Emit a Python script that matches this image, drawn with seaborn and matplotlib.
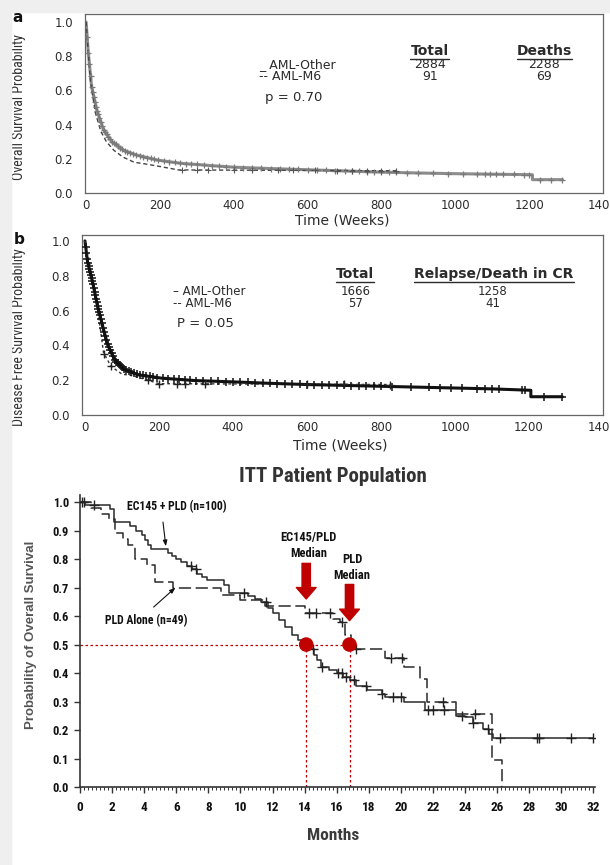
import numpy as np
import matplotlib
matplotlib.use("Agg")
import matplotlib.pyplot as plt
import seaborn as sns
from matplotlib import font_manager
from matplotlib.patches import Rectangle
from matplotlib.lines import Line2D
from matplotlib.ticker import MultipleLocator

# ---------------- panel a: overall survival (weeks) ----------------
a_other_weeks = [0, 6, 15, 29, 47, 70, 101, 137, 192, 255, 354, 400, 500, 600, 700,
                 800, 900, 1000, 1100, 1209, 1209, 1290]
a_other_surv = [1.0, 0.82, 0.62, 0.485, 0.37, 0.30, 0.25, 0.222, 0.193, 0.174, 0.158,
                0.151, 0.143, 0.136, 0.129, 0.122, 0.117, 0.113, 0.110, 0.107, 0.078, 0.078]
a_m6_weeks = [0, 5, 12, 25, 40, 55, 75, 100, 130, 160, 200, 250, 840]
a_m6_surv = [1.0, 0.85, 0.65, 0.47, 0.36, 0.30, 0.25, 0.21, 0.18, 0.17, 0.155, 0.135, 0.13]
a_other_cens = [3, 6, 9, 12, 15, 18, 21, 24, 27, 30, 33, 36, 40, 44, 48, 52, 56, 60, 65,
                70, 75, 80, 86, 92, 98, 105, 112, 120, 128, 136, 145, 155, 165, 175, 185,
                195, 210, 225, 240, 255, 270, 285, 300, 320, 340, 360, 380, 400, 425, 450,
                475, 500, 525, 550, 575, 600, 625, 650, 675, 700, 720, 740, 760, 780, 800,
                820, 840, 870, 900, 940, 980, 1020, 1060, 1080, 1095, 1110, 1130, 1160,
                1185, 1200, 1230, 1260, 1290]
a_m6_cens = [260, 300, 330, 400, 450, 520, 560, 620, 680, 720, 760, 800, 840]
a_groups = ["AML-Other", "AML-M6"]
a_totals = [2884, 91]
a_deaths = [2288, 69]
a_pvalue = "p = 0.70"

# ---------------- panel b: disease free survival (weeks) ----------------
b_other_weeks = [0, 7, 21, 34, 48, 61, 80, 107, 143, 206, 296, 404, 500, 600, 700, 800,
                 900, 1000, 1100, 1205, 1205, 1290]
b_other_surv = [1.0, 0.88, 0.76, 0.626, 0.51, 0.405, 0.318, 0.26, 0.231, 0.212, 0.198,
                0.19, 0.182, 0.175, 0.17, 0.165, 0.16, 0.155, 0.15, 0.142, 0.105, 0.105]
b_m6_weeks = [0, 10, 25, 40, 50, 70, 100, 130, 170, 200, 825]
b_m6_surv = [1.0, 0.9, 0.72, 0.52, 0.36, 0.28, 0.235, 0.225, 0.20, 0.18, 0.175]
b_other_cens = [2, 4, 6, 8, 10, 12, 14, 16, 18, 20, 22, 24, 26, 28, 30, 32, 34, 36, 38, 40,
                43, 46, 49, 52, 55, 58, 61, 64, 68, 72, 76, 80, 85, 90, 95, 100, 106, 112,
                118, 125, 132, 140, 148, 156, 165, 175, 185, 195, 210, 225, 240, 255, 270,
                285, 300, 320, 340, 360, 380, 400, 420, 440, 460, 480, 500, 520, 540, 560,
                580, 600, 620, 640, 660, 680, 700, 720, 740, 760, 780, 800, 830, 880, 930,
                960, 990, 1020, 1060, 1080, 1100, 1120, 1180, 1190, 1240, 1290]
b_m6_cens = [52, 70, 170, 200, 250, 270, 325, 600, 700, 825]
b_groups = ["AML-Other", "AML-M6"]
b_totals = [1666, 57]
b_events = [1258, 41]
b_pvalue = "P = 0.05"

# ---------------- panel c: ITT overall survival (months) ----------------
c_ec_months = [0, 0.3, 1.9, 2.1, 3.1, 3.5, 3.85, 4.05, 4.25, 4.45, 5.5, 5.75, 6.0, 6.3,
               6.7, 7.0, 7.3, 7.6, 7.9, 9.0, 9.3, 10.5, 10.9, 11.3, 11.7, 12.0, 12.4, 12.8,
               13.2, 13.6, 13.9, 14.3, 14.6, 14.8, 15.0, 15.5, 16.0, 16.4, 16.8, 17.2,
               17.9, 18.8, 19.0, 20.2, 21.5, 23.45, 24.0, 24.5, 25.1, 25.5, 25.75, 32.0]
c_ec_surv = [1.0, 0.99, 0.975, 0.93, 0.915, 0.90, 0.884, 0.866, 0.849, 0.835, 0.82, 0.81,
             0.80, 0.79, 0.776, 0.765, 0.748, 0.738, 0.725, 0.71, 0.68, 0.67, 0.66, 0.65,
             0.627, 0.61, 0.586, 0.563, 0.534, 0.516, 0.505, 0.485, 0.465, 0.445, 0.42,
             0.41, 0.40, 0.385, 0.375, 0.355, 0.34, 0.325, 0.316, 0.30, 0.27, 0.25, 0.245,
             0.225, 0.205, 0.185, 0.172, 0.172]
c_pld_months = [0, 0.7, 1.3, 1.8, 2.2, 2.7, 3.0, 3.4, 4.2, 4.7, 5.8, 8.8, 10.0, 11.5, 14.0,
                15.8, 16.2, 16.5, 16.9, 19.0, 20.2, 21.2, 21.6, 23.45, 25.7, 26.3]
c_pld_surv = [1.0, 0.978, 0.96, 0.94, 0.89, 0.87, 0.85, 0.80, 0.78, 0.72, 0.70, 0.675,
              0.655, 0.635, 0.61, 0.59, 0.58, 0.533, 0.485, 0.452, 0.42, 0.38, 0.30,
              0.256, 0.095, 0.0]
c_ec_cens = [0.1, 0.25, 0.9, 6.9, 7.2, 10.2, 11.6, 14.5, 15.1, 16.1, 16.3, 16.6, 17.1,
             17.8, 18.8, 19.5, 20.0, 21.7, 22.0, 22.7, 23.8, 24.5, 25.4, 26.2, 28.5, 28.6,
             30.6, 32.0]
c_pld_cens = [14.3, 14.7, 15.6, 16.3, 17.2, 19.4, 20.1, 22.6, 24.6]
c_medians = [14.1, 16.8]
c_median_labels = ["EC145/PLD\nMedian", "PLD\nMedian"]

week_ticks = [0, 200, 400, 600, 800, 1000, 1200, 1400]
prob_ticks_ab = [0.0, 0.2, 0.4, 0.6, 0.8, 1.0]
month_ticks = [0, 2, 4, 6, 8, 10, 12, 14, 16, 18, 20, 22, 24, 26, 28, 30, 32]
prob_ticks_c = [0.0, 0.1, 0.2, 0.3, 0.4, 0.5, 0.6, 0.7, 0.8, 0.9, 1.0]

W, H = 610, 865
TXT = "#2b2b2b"
RED = "#c00000"
WIDE = ["DejaVu Sans"]
ARIAL = ["Liberation Sans", "DejaVu Sans"]


def pick_narrow():
    # prefer a condensed sans face; fall back to Arial-like Liberation Sans
    entries = font_manager.fontManager.ttflist
    names = {f.name for f in entries}
    for cand in ["Liberation Sans Narrow", "Arial Narrow", "Roboto Condensed",
                 "Open Sans Condensed", "Noto Sans Condensed", "DejaVu Sans Condensed"]:
        if cand in names:
            return dict(family=[cand, "DejaVu Sans"]), True
    for f in entries:
        if str(f.stretch) in ("condensed", "semi-condensed", "extra-condensed") and \
                f.name in ("Noto Sans", "Open Sans", "DejaVu Sans", "Roboto"):
            return dict(family=[f.name, "DejaVu Sans"], fontstretch=str(f.stretch)), True
    return dict(family=ARIAL), False


NARROW, HAVE_NARROW = pick_narrow()
NS = 1.0 if HAVE_NARROW else 0.9   # shrink a little when no condensed face exists

sns.set_style("white")
plt.rcParams["font.family"] = WIDE


def px_axes(fig, left, top, right, bottom):
    return fig.add_axes([left / W, 1 - bottom / H, (right - left) / W, (bottom - top) / H])


def step_at(times, surv, t):
    idx = np.searchsorted(times, t, side="right") - 1
    return np.asarray(surv)[idx]


def underline(fig, renderer, txt):
    bb = txt.get_window_extent(renderer)
    inv = fig.transFigure.inverted()
    (x0, y0), (x1, _) = inv.transform([(bb.x0, bb.y0 - 1.0), (bb.x1, bb.y0 - 1.0)])
    fig.add_artist(Line2D([x0, x1], [y0, y0], transform=fig.transFigure,
                          color=TXT, lw=1.0))


def style_weeks_axis(ax, xmin, ymax, ylabel, xlab_y, ylab_x, ylab_y):
    ax.set_xlim(xmin, 1400)
    ax.set_ylim(0, ymax)
    ax.set_xticks(week_ticks, labels=[str(w) for w in week_ticks], fontsize=8.5, color=TXT)
    ax.set_yticks(prob_ticks_ab, labels=[f"{v:.1f}" for v in prob_ticks_ab],
                  fontsize=8.5, color=TXT)
    ax.tick_params(axis="x", direction="in", length=2.5, pad=4, color="#777")
    ax.tick_params(axis="y", direction="out", length=2.5, pad=6, color="#777")
    for sp in ax.spines.values():
        sp.set_color("#666")
        sp.set_linewidth(0.9)
    ax.set_xlabel("Time (Weeks)", fontsize=10, color=TXT)
    ax.xaxis.set_label_coords(0.496, xlab_y)
    ax.set_ylabel(ylabel, fontsize=10 * NS, color="#333", **NARROW)
    ax.yaxis.set_label_coords(ylab_x, ylab_y)


fig = plt.figure(figsize=(W / 100, H / 100), dpi=100)
fig.patch.set_facecolor("white")
fig.patches.append(Rectangle((0, 0), 11 / W, 1, transform=fig.transFigure,
                             color="#efefef", zorder=0))
fig.patches.append(Rectangle((0, 1 - 12 / H), 1, 12 / H, transform=fig.transFigure,
                             color="#efefef", zorder=0))

# ---------------- panel a ----------------
ax_a = px_axes(fig, 85, 14, 603, 193)
sns.lineplot(x=a_other_weeks, y=a_other_surv, ax=ax_a, color="#8c8c8c", lw=2.2,
             estimator=None, sort=False)
sns.scatterplot(x=a_other_cens, y=np.interp(a_other_cens, a_other_weeks, a_other_surv),
                ax=ax_a, marker="+", s=22, linewidth=0.9, color="#7a7a7a", zorder=3)
sns.lineplot(x=a_m6_weeks, y=a_m6_surv, ax=ax_a, color="#444", lw=1.0,
             linestyle=(0, (3, 2)), estimator=None, sort=False)
sns.scatterplot(x=a_m6_cens, y=np.interp(a_m6_cens, a_m6_weeks, a_m6_surv),
                ax=ax_a, marker="+", s=18, linewidth=0.8, color="#555", zorder=3)
style_weeks_axis(ax_a, -3, 1.047, "Overall Survival Probability", -0.117, -0.113, 0.48)

ta_total = ax_a.text(930, 0.83, "Total", ha="center", va="center", fontsize=10,
                     fontweight="bold", color=TXT)
ta_deaths = ax_a.text(1241, 0.83, "Deaths", ha="center", va="center", fontsize=10,
                      fontweight="bold", color=TXT)
for row_y, key, grp, tot, dth in zip([0.752, 0.682], ["_", "--"], a_groups, a_totals, a_deaths):
    ax_a.text(469, row_y, f"{key} {grp}", ha="left", va="center", fontsize=9, color=TXT)
    ax_a.text(932, row_y, str(tot), ha="center", va="center", fontsize=9, color=TXT)
    ax_a.text(1240, row_y, str(dth), ha="center", va="center", fontsize=9, color=TXT)
ax_a.text(485, 0.556, a_pvalue, ha="left", va="center", fontsize=9.5, color=TXT)
fig.text(18 / W, 1 - 18 / H, "a", ha="center", va="center", fontsize=11,
         fontweight="bold", color="#111")

# ---------------- panel b ----------------
ax_b = px_axes(fig, 82, 235, 603, 415)
sns.lineplot(x=b_other_weeks, y=b_other_surv, ax=ax_b, color="#111", lw=2.2,
             estimator=None, sort=False)
sns.scatterplot(x=b_other_cens, y=np.interp(b_other_cens, b_other_weeks, b_other_surv),
                ax=ax_b, marker="+", s=34, linewidth=1.1, color="#111", zorder=3)
sns.lineplot(x=b_m6_weeks, y=b_m6_surv, ax=ax_b, color="#333", lw=1.0,
             linestyle=(0, (2, 2)), estimator=None, sort=False)
sns.scatterplot(x=b_m6_cens, y=np.interp(b_m6_cens, b_m6_weeks, b_m6_surv),
                ax=ax_b, marker="+", s=28, linewidth=1.0, color="#222", zorder=3)
style_weeks_axis(ax_b, -8, 1.034, "Disease Free Survival Probability", -0.128, -0.107, 0.43)

tb_total = ax_b.text(730, 0.81, "Total", ha="center", va="center", fontsize=10,
                     fontweight="bold", color=TXT)
tb_events = ax_b.text(1105, 0.81, "Relapse/Death in CR", ha="center", va="center",
                      fontsize=10, fontweight="bold", color=TXT)
for row_y, key, grp, tot, ev in zip([0.712, 0.642], ["\u2013", "--"], b_groups, b_totals, b_events):
    ax_b.text(238, row_y, f"{key} {grp}", ha="left", va="center", fontsize=8.5, color=TXT)
    ax_b.text(732, row_y, str(tot), ha="center", va="center", fontsize=8.5, color=TXT)
    ax_b.text(1102, row_y, str(ev), ha="center", va="center", fontsize=8.5, color=TXT)
ax_b.text(249, 0.523, b_pvalue, ha="left", va="center", fontsize=9.5, color=TXT)
fig.text(19 / W, 1 - 240 / H, "b", ha="center", va="center", fontsize=11,
         fontweight="bold", color="#111")

# ---------------- panel c ----------------
ax_c = px_axes(fig, 80, 495, 595, 787)
ax_c.set_xlim(0, 32.1)
ax_c.set_ylim(0, 1.025)
ax_c.hlines(0.5, 0, max(c_medians), colors=RED, lw=0.9, linestyles=(0, (2, 2)), zorder=1)
ax_c.vlines(c_medians, 0, 0.5, colors=RED, lw=0.9, linestyles=(0, (2, 2)), zorder=1)
sns.lineplot(x=c_pld_months, y=c_pld_surv, ax=ax_c, color="#2a2a2a", lw=1.1,
             drawstyle="steps-post", linestyle=(0, (8, 3)), estimator=None, sort=False)
sns.lineplot(x=c_ec_months, y=c_ec_surv, ax=ax_c, color="#2a2a2a", lw=1.1,
             drawstyle="steps-post", estimator=None, sort=False)
sns.scatterplot(x=c_ec_cens, y=step_at(c_ec_months, c_ec_surv, c_ec_cens), ax=ax_c,
                marker="+", s=45, linewidth=1.0, color="#222", zorder=3)
sns.scatterplot(x=c_pld_cens, y=step_at(c_pld_months, c_pld_surv, c_pld_cens), ax=ax_c,
                marker="+", s=45, linewidth=1.0, color="#222", zorder=3)
sns.scatterplot(x=c_medians, y=[0.5] * len(c_medians), ax=ax_c, s=110, color=RED,
                edgecolor="none", zorder=4)

for med, top, tip in zip(c_medians, [0.785, 0.711], [0.66, 0.584]):
    ax_c.annotate("", xy=(med, tip), xytext=(med, top),
                  arrowprops=dict(arrowstyle="simple,head_length=0.55,head_width=0.95,tail_width=0.4",
                                  color=RED, mutation_scale=15, shrinkA=0, shrinkB=0))
for med, lab, ly in zip(c_medians, c_median_labels, [0.848, 0.77]):
    ax_c.text(med + 0.15, ly, lab, ha="center", va="center", fontsize=9 * NS,
              fontweight="bold", color="#111", linespacing=1.3, **NARROW)

ax_c.annotate("EC145 + PLD (n=100)", xy=(5.35, 0.845), xytext=(6.04, 0.984),
              ha="center", va="center", fontsize=8.5 * NS, fontweight="bold", color="#111",
              arrowprops=dict(arrowstyle="-|>,head_length=0.4,head_width=0.15", color="#111",
                              lw=0.8, shrinkA=4, shrinkB=0, relpos=(0.35, 0)), **NARROW)
ax_c.annotate("PLD Alone (n=49)", xy=(5.95, 0.70), xytext=(4.1, 0.584),
              ha="center", va="center", fontsize=8.5 * NS, fontweight="bold", color="#111",
              arrowprops=dict(arrowstyle="-|>,head_length=0.4,head_width=0.15", color="#111",
                              lw=0.8, shrinkA=4, shrinkB=0, relpos=(0.5, 1)), **NARROW)

sns.despine(ax=ax_c)
for sp in ["left", "bottom"]:
    ax_c.spines[sp].set_color("#333")
    ax_c.spines[sp].set_linewidth(1.2)
ax_c.set_xticks(month_ticks, labels=[str(m) for m in month_ticks], fontsize=9.5 * NS,
                fontweight="bold", color="#111", **NARROW)
ax_c.set_yticks(prob_ticks_c, labels=[f"{v:.1f}" for v in prob_ticks_c], fontsize=9 * NS,
                fontweight="bold", color="#111", **NARROW)
ax_c.xaxis.set_minor_locator(MultipleLocator(0.25))
ax_c.tick_params(axis="x", which="major", direction="out", length=4.5, width=1, pad=5.5,
                 color="#333", bottom=True)
ax_c.tick_params(axis="x", which="minor", direction="out", length=2.2, width=0.7,
                 color="#333", bottom=True)
ax_c.tick_params(axis="y", direction="out", length=4.5, width=1, pad=3.5, color="#333",
                 left=True)
ax_c.set_xlabel("Months", fontsize=12.5 * NS, fontweight="bold", color="#3a3a3a", **NARROW)
ax_c.xaxis.set_label_coords(0.491, -0.14)
ax_c.set_ylabel("Probability of Overall Survival", fontsize=9.5, fontweight="bold",
                family=ARIAL, color="#555")
ax_c.yaxis.set_label_coords(-0.083, 0.52)
fig.text(333 / W, 1 - 477 / H, "ITT Patient Population", ha="center", va="center",
         fontsize=15 * NS, fontweight="bold", color="#333", **NARROW)

# underlined column headers
fig.canvas.draw()
renderer = fig.canvas.get_renderer()
for t in [ta_total, ta_deaths, tb_total, tb_events]:
    underline(fig, renderer, t)

fig.savefig("out.png", dpi=100)
